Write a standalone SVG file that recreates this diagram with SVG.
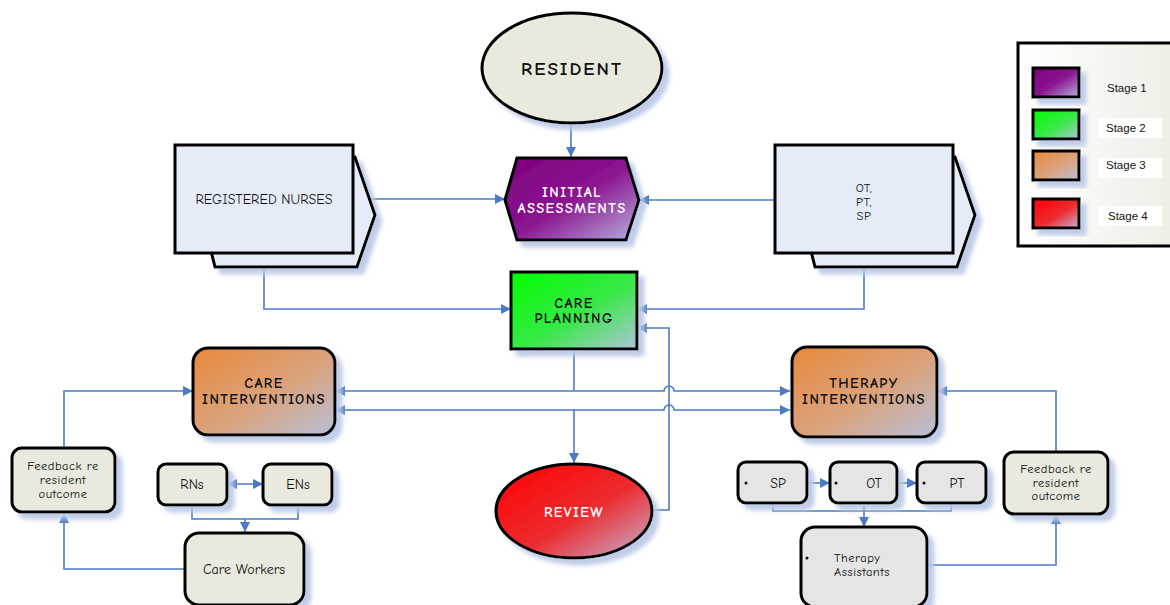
<svg xmlns="http://www.w3.org/2000/svg" width="1170" height="605" viewBox="0 0 1170 605">
  <style>
    .box { stroke: #000; stroke-width: 3; }
    .lbl { font-family: "Comic Sans MS", "Comic Neue", "DejaVu Sans", sans-serif; fill: #111; text-anchor: middle; }
    .b { font-weight: bold; font-size: 14.5px; letter-spacing: 1.4px; }
    .n { font-size: 14px; }
    .m { font-size: 12.5px; letter-spacing: 0.5px; }
    .w { fill: #fff; }
    .start { text-anchor: start; }
    .conn { fill: none; stroke: #4a7bc4; stroke-width: 1.6; }
    .leg { font-family: "Liberation Sans", Arial, sans-serif; font-size: 11.5px; fill: #111; }
  </style>
  <defs>
    <filter id="sh" x="-20%" y="-20%" width="150%" height="150%">
      <feDropShadow dx="6" dy="6" stdDeviation="2" flood-color="#b9c7e6" flood-opacity="0.9"/>
    </filter>
    <marker id="ah" viewBox="0 0 10 10" refX="10" refY="5" markerWidth="11" markerHeight="10" markerUnits="userSpaceOnUse" orient="auto-start-reverse">
      <path d="M0,0 L10,5 L0,10 Z" fill="#4a7bc4"/>
    </marker>
    <linearGradient id="gPurple" x1="0" y1="0" x2="1" y2="1">
      <stop offset="0" stop-color="#7e007e"/>
      <stop offset="0.5" stop-color="#8a1490"/>
      <stop offset="1" stop-color="#b8b0dc"/>
    </linearGradient>
    <linearGradient id="gGreen" x1="0" y1="0" x2="1" y2="1">
      <stop offset="0" stop-color="#00ff00"/>
      <stop offset="0.55" stop-color="#3ae848"/>
      <stop offset="1" stop-color="#b0c4dc"/>
    </linearGradient>
    <linearGradient id="gOrange" x1="0" y1="0" x2="1" y2="1">
      <stop offset="0" stop-color="#e8893a"/>
      <stop offset="0.55" stop-color="#daa37e"/>
      <stop offset="1" stop-color="#b7c0da"/>
    </linearGradient>
    <linearGradient id="gRed" x1="0" y1="0" x2="1" y2="1">
      <stop offset="0" stop-color="#ff0000"/>
      <stop offset="0.55" stop-color="#ec2c30"/>
      <stop offset="1" stop-color="#c4b4d4"/>
    </linearGradient>
    <linearGradient id="gLegend" x1="0" y1="0" x2="1" y2="0">
      <stop offset="0" stop-color="#ffffff"/>
      <stop offset="1" stop-color="#eeeee6"/>
    </linearGradient>
  </defs>

  <!-- connectors -->
  <g id="connectors">
    <path class="conn" d="M571,124 V157" marker-end="url(#ah)"/>
    <path class="conn" d="M353,199 H505" marker-end="url(#ah)"/>
    <path class="conn" d="M775,200 H639" marker-end="url(#ah)"/>
    <path class="conn" d="M264,253 V309 H511" marker-end="url(#ah)"/>
    <path class="conn" d="M864,253 V309 H637" marker-end="url(#ah)"/>
    <path class="conn" d="M652,510 H669 V328 H637" marker-end="url(#ah)"/>
    <path class="conn" d="M574,349 V391"/>
    <path class="conn" d="M335,391 H664 a5,5 0 0 1 10,0 H790" marker-start="url(#ah)" marker-end="url(#ah)"/>
    <path class="conn" d="M335,410 H664 a5,5 0 0 1 10,0 H790" marker-start="url(#ah)" marker-end="url(#ah)"/>
    <path class="conn" d="M574,410 V463" marker-end="url(#ah)"/>
    <path class="conn" d="M64,448 V391 H193" marker-end="url(#ah)"/>
    <path class="conn" d="M1056,451 V391 H937" marker-end="url(#ah)"/>
    <path class="conn" d="M227,484 H263" marker-start="url(#ah)" marker-end="url(#ah)"/>
    <path class="conn" d="M192,505 V519 H298 V505"/>
    <path class="conn" d="M245,519 V532" marker-end="url(#ah)"/>
    <path class="conn" d="M185,569 H64 V513" marker-end="url(#ah)"/>
    <path class="conn" d="M807,483 H830" marker-end="url(#ah)"/>
    <path class="conn" d="M897,483 H917" marker-end="url(#ah)"/>
    <path class="conn" d="M773,503 V511 H951 V503"/>
    <path class="conn" d="M864,503 V527" marker-end="url(#ah)"/>
    <path class="conn" d="M927,565 H1056 V514" marker-end="url(#ah)"/>
  </g>

  <!-- resident -->
  <g id="resident">
    <ellipse class="box" cx="572" cy="68" rx="90" ry="55" fill="#e9e9dd" filter="url(#sh)"/>
    <text class="lbl" x="572" y="75" font-size="19" font-weight="bold" letter-spacing="2">RESIDENT</text>
  </g>

  <!-- initial assessments -->
  <g id="initial-assessments">
    <polygon class="box" points="517,158 626,158 639,200 626,240 517,240 505,200" fill="url(#gPurple)" filter="url(#sh)"/>
    <text class="lbl b w" x="572" y="197">INITIAL</text>
    <text class="lbl b w" x="572" y="213">ASSESSMENTS</text>
  </g>

  <!-- registered nurses -->
  <g id="registered-nurses">
    <polygon class="box" points="212,157 355,157 375,215 357,267 215,267 212,255" fill="#e6ecf7" filter="url(#sh)"/>
    <rect class="box" x="175" y="145" width="178" height="108" fill="#e6ecf7"/>
    <text class="lbl n" x="264" y="204">REGISTERED NURSES</text>
  </g>

  <!-- therapists -->
  <g id="therapists">
    <polygon class="box" points="812,157 955,157 975,215 957,267 815,267 812,255" fill="#e6ecf7" filter="url(#sh)"/>
    <rect class="box" x="775" y="145" width="178" height="108" fill="#e6ecf7"/>
    <text class="lbl m" x="864" y="192">OT,</text>
    <text class="lbl m" x="864" y="206">PT,</text>
    <text class="lbl m" x="864" y="220">SP</text>
  </g>

  <!-- legend -->
  <g id="legend">
    <rect x="1018" y="43" width="160" height="203" fill="url(#gLegend)" stroke="#000" stroke-width="3"/>
    <rect class="box" x="1033" y="68" width="46" height="29" fill="url(#gPurple)" filter="url(#sh)"/>
    <rect class="box" x="1033" y="110" width="46" height="29" fill="url(#gGreen)" filter="url(#sh)"/>
    <rect class="box" x="1033" y="151" width="46" height="29" fill="url(#gOrange)" filter="url(#sh)"/>
    <rect class="box" x="1033" y="199" width="46" height="29" fill="url(#gRed)" filter="url(#sh)"/>
    <rect x="1098" y="118" width="64" height="20" fill="#fff"/>
    <rect x="1098" y="158" width="64" height="20" fill="#fff"/>
    <rect x="1098" y="206" width="64" height="20" fill="#fff"/>
    <text class="leg" x="1107" y="92">Stage 1</text>
    <text class="leg" x="1106" y="132">Stage 2</text>
    <text class="leg" x="1106" y="169">Stage 3</text>
    <text class="leg" x="1108" y="220">Stage 4</text>
  </g>

  <!-- care planning -->
  <g id="care-planning">
    <rect class="box" x="511" y="272" width="126" height="77" fill="url(#gGreen)" filter="url(#sh)"/>
    <text class="lbl b" x="574" y="308">CARE</text>
    <text class="lbl b" x="574" y="323">PLANNING</text>
  </g>

  <!-- care interventions -->
  <g id="care-interventions">
    <rect class="box" x="193" y="348" width="142" height="87" rx="15" fill="url(#gOrange)" filter="url(#sh)"/>
    <text class="lbl b" x="264" y="388">CARE</text>
    <text class="lbl b" x="264" y="404">INTERVENTIONS</text>
  </g>

  <!-- therapy interventions -->
  <g id="therapy-interventions">
    <rect class="box" x="792" y="347" width="145" height="90" rx="15" fill="url(#gOrange)" filter="url(#sh)"/>
    <text class="lbl b" x="864" y="388">THERAPY</text>
    <text class="lbl b" x="864" y="404">INTERVENTIONS</text>
  </g>

  <!-- review -->
  <g id="review">
    <ellipse class="box" cx="574" cy="511" rx="78" ry="47" fill="url(#gRed)" filter="url(#sh)"/>
    <text class="lbl b w" x="574" y="517">REVIEW</text>
  </g>

  <!-- left feedback -->
  <g id="feedback-care">
    <rect class="box" x="12" y="448" width="103" height="64" rx="10" fill="#e9e9dd" filter="url(#sh)"/>
    <text class="lbl m" x="63" y="470">Feedback re</text>
    <text class="lbl m" x="63" y="484">resident</text>
    <text class="lbl m" x="63" y="498">outcome</text>
  </g>

  <g id="rns">
    <rect class="box" x="158" y="464" width="69" height="41" rx="8" fill="#e9e9dd" filter="url(#sh)"/>
    <text class="lbl n" x="192" y="489">RNs</text>
  </g>

  <g id="ens">
    <rect class="box" x="263" y="464" width="69" height="41" rx="8" fill="#e9e9dd" filter="url(#sh)"/>
    <text class="lbl n" x="298" y="489">ENs</text>
  </g>

  <g id="care-workers">
    <rect class="box" x="185" y="533" width="119" height="72" rx="14" fill="#e9e9dd" filter="url(#sh)"/>
    <text class="lbl n" x="244" y="574">Care Workers</text>
  </g>

  <!-- therapy team -->
  <g id="sp">
    <rect class="box" x="738" y="462" width="69" height="41" rx="8" fill="#e5e5e5" filter="url(#sh)"/>
    <circle cx="746" cy="483" r="1.5" fill="#111"/>
    <text class="lbl n" x="778" y="488">SP</text>
  </g>

  <g id="ot">
    <rect class="box" x="830" y="462" width="67" height="41" rx="8" fill="#e5e5e5" filter="url(#sh)"/>
    <circle cx="836" cy="483" r="1.5" fill="#111"/>
    <text class="lbl n" x="874" y="488">OT</text>
  </g>

  <g id="pt">
    <rect class="box" x="917" y="462" width="69" height="41" rx="8" fill="#e5e5e5" filter="url(#sh)"/>
    <circle cx="924" cy="483" r="1.5" fill="#111"/>
    <text class="lbl n" x="957" y="488">PT</text>
  </g>

  <g id="therapy-assistants">
    <rect class="box" x="801" y="527" width="126" height="80" rx="14" fill="#e5e5e5" filter="url(#sh)"/>
    <circle cx="807" cy="558" r="1.5" fill="#111"/>
    <text class="lbl m start" x="834" y="562">Therapy</text>
    <text class="lbl m start" x="834" y="576">Assistants</text>
  </g>

  <!-- right feedback -->
  <g id="feedback-therapy">
    <rect class="box" x="1004" y="452" width="104" height="62" rx="10" fill="#e9e9dd" filter="url(#sh)"/>
    <text class="lbl m" x="1056" y="473">Feedback re</text>
    <text class="lbl m" x="1056" y="487">resident</text>
    <text class="lbl m" x="1056" y="500">outcome</text>
  </g>
</svg>
